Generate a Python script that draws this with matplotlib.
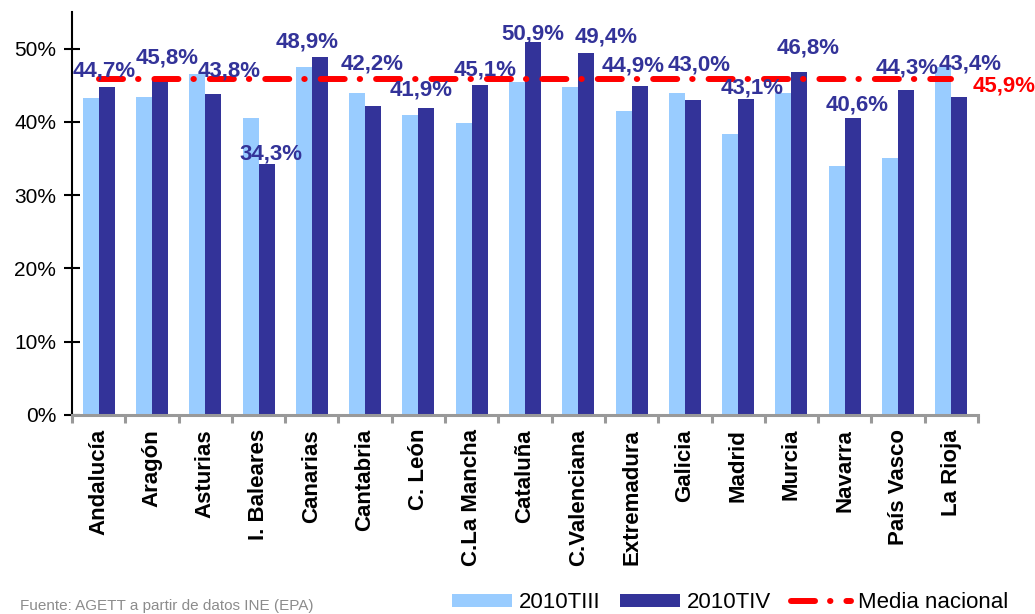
import matplotlib
matplotlib.use("Agg")
import matplotlib.pyplot as plt
import numpy as np
from matplotlib.ticker import PercentFormatter, FixedLocator

plt.rcParams['font.family'] = ['Liberation Sans', 'DejaVu Sans']
plt.rcParams['lines.scale_dashes'] = False

# data
regiones = ['Andalucía', 'Aragón', 'Asturias', 'I. Baleares', 'Canarias',
            'Cantabria', 'C. León', 'C.La Mancha', 'Cataluña', 'C.Valenciana',
            'Extremadura', 'Galicia', 'Madrid', 'Murcia', 'Navarra',
            'País Vasco', 'La Rioja']
t3_2010 = [43.2, 43.4, 46.5, 40.5, 47.5, 44.0, 40.9, 39.9, 45.5, 44.7,
           41.5, 44.0, 38.3, 44.0, 34.0, 35.1, 47.5]
t4_2010 = [44.7, 45.8, 43.8, 34.3, 48.9, 42.2, 41.9, 45.1, 50.9, 49.4,
           44.9, 43.0, 43.1, 46.8, 40.6, 44.3, 43.4]
media_nacional = 45.9
fuente = 'Fuente: AGETT a partir de datos INE (EPA)'

# label placement tweaks (pixels, relative to top of the 2010TIV bar)
label_dx = [-2, 7, 16, 4, -13, -1, -5, 5, 0, 20, -6, 6, 6, 9, 4, 1, 11]
label_dy = [19, 24, 26, 12, 17, 44, 20, 17, 11, 19, 23, 37, 14, 27, 15, 25, 35]

light = '#99CCFF'
dark = '#333399'
red = '#FF0000'

fig = plt.figure(figsize=(10.35, 6.14), dpi=100)
ax = fig.add_axes([72/1035, 1 - 415/614, (978 - 72)/1035, (415 - 12)/614])

x = np.arange(len(regiones))
w = 0.3
b1 = ax.bar(x - w/2, np.array(t3_2010)/100, w, color=light, label='2010TIII')
b2 = ax.bar(x + w/2, np.array(t4_2010)/100, w, color=dark, label='2010TIV')
ln, = ax.plot(x, np.full(len(x), media_nacional/100), color=red, lw=4.3,
              dashes=(17.3, 10.8, 0.3, 11.5), solid_capstyle='round',
              dash_capstyle='round', label='Media nacional')

for i, v in enumerate(t4_2010):
    ax.annotate(f'{v:.1f}%'.replace('.', ','), xy=(x[i] + w/2, v/100),
                xytext=(label_dx[i], label_dy[i] - 8), textcoords='offset pixels',
                ha='center', va='baseline', fontsize=16, fontweight='bold',
                color=dark)

ax.annotate(f'{media_nacional:.1f}%'.replace('.', ','),
            xy=(x[-1], media_nacional/100), xytext=(21, -13),
            textcoords='offset pixels', ha='left', va='baseline',
            fontsize=16, fontweight='bold', color=red, annotation_clip=False)

ax.set_xlim(-0.5, len(regiones) - 0.5)
ax.set_ylim(0, 0.55)
ax.yaxis.set_major_locator(FixedLocator([0, 0.1, 0.2, 0.3, 0.4, 0.5]))
ax.yaxis.set_major_formatter(PercentFormatter(1.0, decimals=0))

ax.set_xticks(x)
ax.set_xticklabels(regiones, rotation=90, fontsize=16, fontweight='bold')
ax.xaxis.set_minor_locator(FixedLocator(np.arange(len(regiones) + 1) - 0.5))
ax.tick_params(axis='x', which='major', length=0, pad=10)
ax.tick_params(axis='x', which='minor', length=6, width=2.2, color='#999999',
               direction='out')
ax.tick_params(axis='y', direction='inout', length=11, width=1.5,
               color='black', labelsize=15, pad=6)

for s in ['top', 'right']:
    ax.spines[s].set_visible(False)
ax.spines['left'].set_linewidth(1.5)
ax.spines['left'].set_color('black')
ax.spines['bottom'].set_linewidth(2.2)
ax.spines['bottom'].set_color('#999999')

fig.legend([b1, b2, ln], ['2010TIII', '2010TIV', 'Media nacional'],
           loc='center left', bbox_to_anchor=(452/1035, 1 - 603/614),
           ncol=3, frameon=False, fontsize=16, handlelength=2.7,
           handleheight=0.55, handletextpad=0.3, columnspacing=0.9,
           borderpad=0, borderaxespad=0)

fig.text(20/1035, 1/614, fuente, fontsize=11, color='#8C8C8C',
         ha='left', va='bottom')

fig.savefig('out.png', dpi=100)
